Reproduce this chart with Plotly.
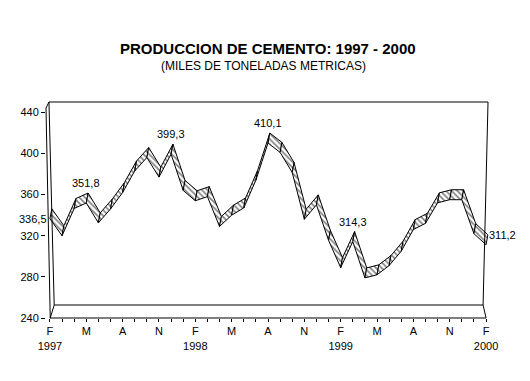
import plotly.graph_objects as go

# ---- data ----
months = list(range(37))  # Feb 1997 .. Feb 2000
produccion = [336.5, 320, 346.5, 351.8, 332.5, 346, 362, 383, 396, 377, 399.3,
              364, 354, 358, 329, 340, 347, 374, 410.1, 401, 381.5, 336, 350,
              315.5, 289, 314.3, 279, 282, 291, 305, 326, 332, 352, 355, 355,
              322, 311.2]
month_letters = ["F", "M", "A", "N"]
years = ["1997", "1998", "1999", "2000"]
y_ticks = [240, 280, 320, 360, 400, 440]
labeled = {0: "336,5", 3: "351,8", 10: "399,3", 18: "410,1", 25: "314,3", 36: "311,2"}

# ---- geometry / style ----
OFF = 8                     # page body margin
DX, DY = 0.15, 9.7          # ribbon depth (months, units)
X0, X1 = -0.326, 36.326
Y0, Y1 = 240, 450
W, H = 530 - OFF, 381 - OFF
L, R, T, B = 40 - OFF, 40, 102 - OFF, 63
PW, PH = W - L - R, H - T - B
FONT = "Liberation Sans, Arial, sans-serif"

fig = go.Figure()

# ribbon: one parallelogram per segment, drawn left to right
for i in range(len(months) - 1):
    xs = [months[i], months[i + 1], months[i + 1] + DX, months[i] + DX, months[i]]
    ys = [produccion[i], produccion[i + 1], produccion[i + 1] + DY,
          produccion[i] + DY, produccion[i]]
    fig.add_trace(go.Scatter(
        x=xs, y=ys, mode="lines", fill="toself",
        fillcolor="white",
        fillpattern=dict(shape="\\", size=4, solidity=0.4,
                         fgcolor="black", bgcolor="white"),
        line=dict(color="black", width=1), hoverinfo="skip", showlegend=False))

# ---- frame (decoration, page pixel positions to paper) ----
def px(p):
    return (p - OFF - L) / PW

def py(p):
    return (H - B - (p - OFF)) / PH

frame = [((40, 108), (44.3, 318)), ((40, 108), (43, 102)),
         ((43, 102), (488, 102)), ((43, 102), (48.3, 305)),
         ((488, 102), (483, 305)), ((48.3, 305), (483, 305)),
         ((44, 318), (486, 318)), ((48.3, 305), (44.3, 318)),
         ((483, 305), (486, 318))]
shapes = []
for (a, b) in frame:
    shapes.append(dict(type="line", xref="paper", yref="paper",
                       x0=px(a[0]), y0=py(a[1]), x1=px(b[0]), y1=py(b[1]),
                       line=dict(color="black", width=1)))

# ---- tick text ----
ticktext = []
for i in months:
    if i % 3 == 0:
        letter = month_letters[(i // 3) % 4]
        if letter == "F":
            ticktext.append(letter + "<br>" + years[i // 12])
        else:
            ticktext.append(letter)
    else:
        ticktext.append("")

annotations = [
    dict(text="<b>PRODUCCION DE CEMENTO: 1997 - 2000</b>", xref="paper", yref="paper",
         x=px(265), y=py(48), showarrow=False, font=dict(size=15, family=FONT, color="black"),
         xanchor="center", yanchor="middle"),
    dict(text="(MILES DE TONELADAS METRICAS)", xref="paper", yref="paper",
         x=px(260), y=py(66), showarrow=False, font=dict(size=12, family=FONT, color="black"),
         xanchor="center", yanchor="middle"),
]
for i, t in labeled.items():
    if i == 0:
        annotations.append(dict(text=t, x=months[i], y=produccion[i], xref="x", yref="y",
                                showarrow=False, xanchor="right", yanchor="middle", xshift=-1,
                                font=dict(size=11, family=FONT, color="black")))
    elif i == len(months) - 1:
        annotations.append(dict(text=t, x=months[i], y=produccion[i] + DY, xref="x", yref="y",
                                showarrow=False, xanchor="left", yanchor="middle", xshift=1,
                                font=dict(size=11, family=FONT, color="black")))
    else:
        annotations.append(dict(text=t, x=months[i], y=produccion[i] + DY, xref="x", yref="y",
                                showarrow=False, xanchor="center", yanchor="bottom", yshift=2,
                                font=dict(size=11, family=FONT, color="black")))

fig.update_layout(
    width=W, height=H, autosize=False,
    margin=dict(l=L, r=R, t=T, b=B, pad=0),
    paper_bgcolor="white", plot_bgcolor="white",
    showlegend=False, shapes=shapes, annotations=annotations,
    font=dict(family=FONT, size=11, color="black"),
    xaxis=dict(range=[X0, X1], tickvals=months, ticktext=ticktext, ticks="outside",
               ticklen=3, tickcolor="black", showgrid=False, zeroline=False,
               showline=False, tickfont=dict(size=11, family=FONT, color="black")),
    yaxis=dict(range=[Y0, Y1], tickvals=y_ticks, ticktext=[str(v) for v in y_ticks],
               ticks="outside", ticklen=4, tickcolor="black", showgrid=False,
               zeroline=False, showline=False,
               tickfont=dict(size=11, family=FONT, color="black")),
)

fig.write_html("out.html")
